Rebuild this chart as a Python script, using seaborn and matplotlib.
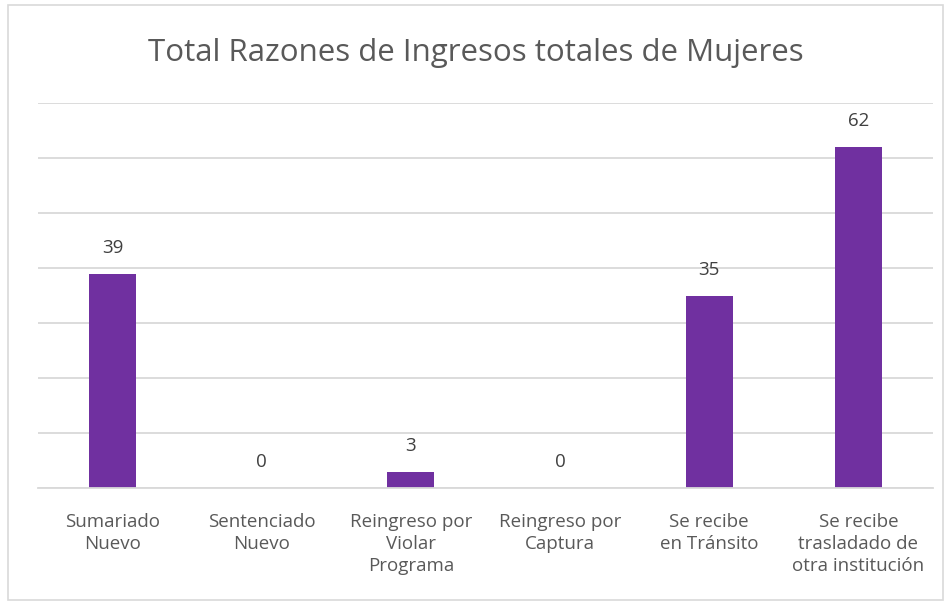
import matplotlib
matplotlib.use("Agg")
import matplotlib.pyplot as plt
import seaborn as sns
import pandas as pd
from matplotlib.patches import Rectangle

categories = ["Sumariado\nNuevo", "Sentenciado\nNuevo", "Reingreso por\nViolar\nPrograma",
              "Reingreso por\nCaptura", "Se recibe\nen Tránsito", "Se recibe\ntrasladado de\notra institución"]
values = [39, 0, 3, 0, 35, 62]
title = "Total Razones de Ingresos totales de Mujeres"

sns.set_theme(style="white")
plt.rcParams['font.family'] = ['Open Sans', 'DejaVu Sans']

df = pd.DataFrame({"cat": categories, "val": values})

fig = plt.figure(figsize=(9.51, 6.07), dpi=100)
ax = fig.add_axes([38/951, 1-488/607, (933-38)/951, (488-103)/607])

sns.barplot(data=df, x="cat", y="val", color="#7030A0", width=0.315, ax=ax,
            saturation=1, edgecolor="none")

ax.set_ylim(0, 70)
ax.set_xlim(-0.5, len(categories)-0.5)
ax.set_yticks(range(0, 71, 10))
ax.yaxis.grid(True, color="#D9D9D9", linewidth=1.3)
ax.set_axisbelow(True)
ax.set_yticklabels([])
ax.tick_params(axis="y", length=0)
ax.tick_params(axis="x", length=0, pad=18, labelsize=13.5, labelcolor="#595959")
for s in ["top", "right", "left"]:
    ax.spines[s].set_visible(False)
ax.spines["bottom"].set_color("#D9D9D9")
ax.spines["bottom"].set_linewidth(1.3)
ax.set_xlabel("")
ax.set_ylabel("")
for lbl in ax.get_xticklabels():
    lbl.set_linespacing(1.3)

for i, v in enumerate(values):
    ax.annotate(str(v), (i, v), xytext=(0, 12), textcoords="offset points",
                ha="center", va="bottom", fontsize=13.5, color="#404040")

fig.text(0.5, 1-53/607, title, ha="center", va="center", fontsize=22.5, color="#595959")

fig.patches.append(Rectangle((8/951, 1-600/607), (943-8)/951, (600-5)/607,
                             transform=fig.transFigure, fill=False,
                             edgecolor="#D9D9D9", linewidth=1.2))

fig.savefig("out.png", dpi=100, facecolor="white")
